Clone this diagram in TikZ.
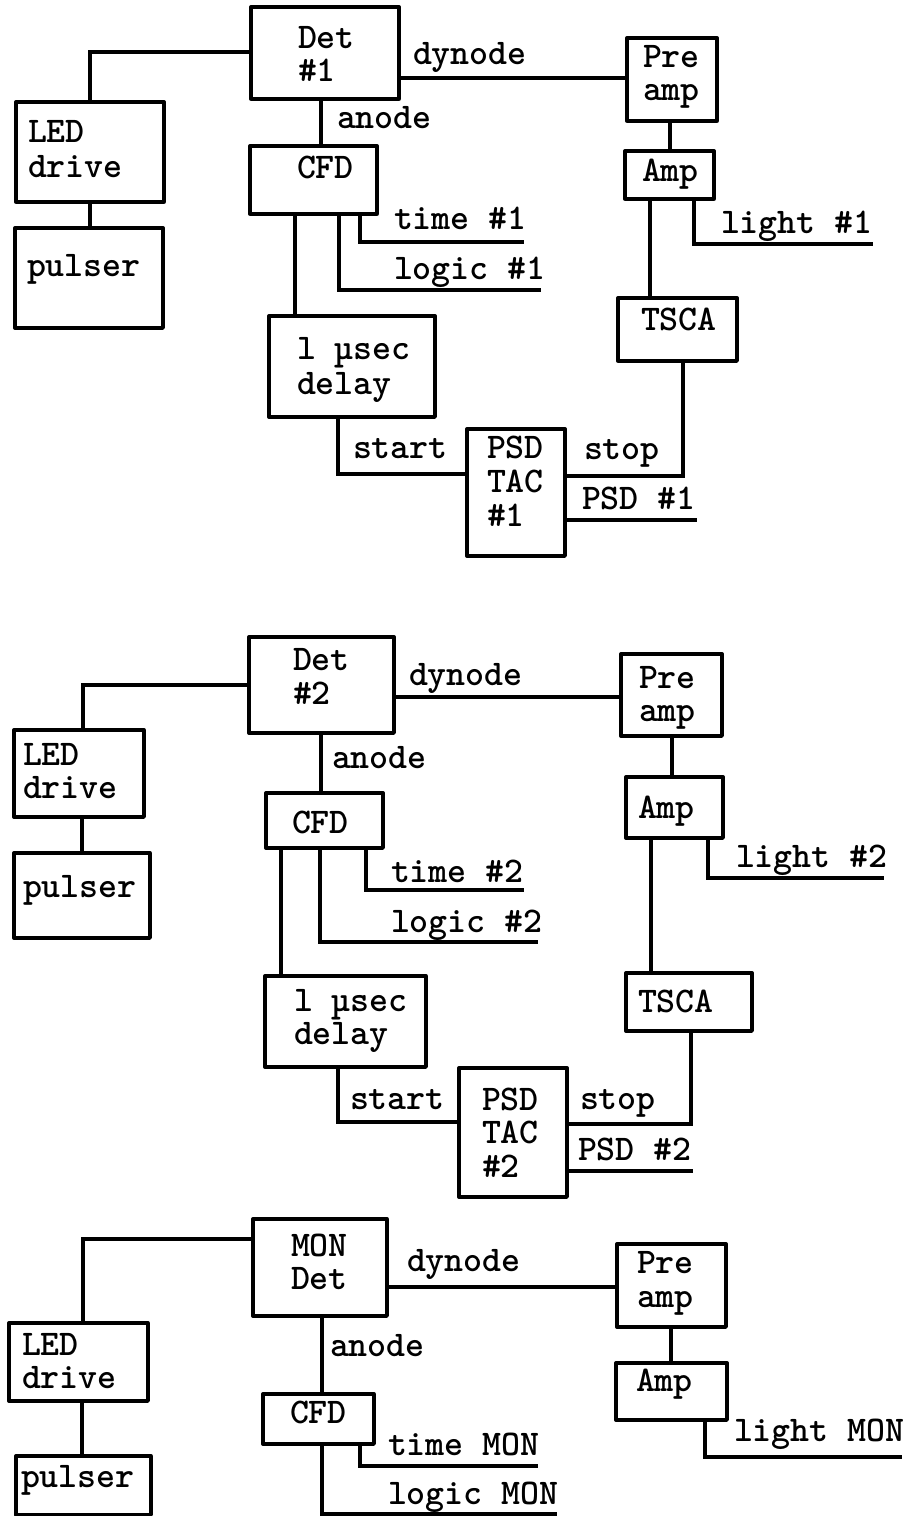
\documentclass[tikz,border=0pt]{standalone}
\usepackage{fontspec}
\tikzset{x=0.75pt,y=-0.75pt,
  box/.style={draw=black,line width=2.5pt,rectangle,inner sep=0pt,outer sep=0pt,line join=round},
  wire/.style={draw=black,line width=2.5pt,line join=miter},
  lab/.style={anchor=base west,inner sep=0pt,outer sep=0pt}}
% name, x0,y0,x1,y1, text left, first baseline, line gap, text
\newcommand\bx[9]{%
  \pgfmathsetlengthmacro\bw{(#4-#2)*0.75}%
  \pgfmathsetlengthmacro\bh{(#5-#3)*0.75}%
  \pgfmathsetlengthmacro\bdx{(#6-(#2+#4)/2)*0.75}%
  \pgfmathsetlengthmacro\bdy{((#3+#5)/2-#7)*0.75}%
  \pgfmathsetlengthmacro\bgap{(#8)*0.75}%
  \node[box,minimum width=\bw,minimum height=\bh] (#1) at ({(#2+#4)/2},{(#3+#5)/2})
    {\makebox[0pt][l]{\hspace*{\bdx}\raisebox{\bdy}[0pt][0pt]{\parbox[t]{200pt}{\setlength\baselineskip{\bgap}\parindent=0pt #9}}}};}
\newcommand\lb[4]{\node[lab] (#1) at (#2,#3) {#4};}
\begin{document}
\begin{tikzpicture}
\ttfamily\bfseries\fontsize{27.1}{32}\selectfont
\useasboundingbox (0,0) rectangle (908,1516);
% ---- section 1
\bx{detA}{251}{7}{399}{99}{298}{48.5}{33}{Det\\\#1}
\bx{ledA}{16}{102}{164}{202}{28}{143}{34}{LED\\drive}
\bx{pulA}{15}{228}{163}{328}{27}{276}{32}{pulser}
\bx{cfdA}{250}{146}{377}{214}{297}{179}{32}{CFD}
\bx{preA}{627}{38}{717}{121}{643}{68}{33}{Pre\\amp}
\bx{ampA}{625}{151}{714}{199}{642}{182}{32}{Amp}
\bx{tscA}{618}{298}{737}{361}{641}{330}{32}{TSCA}
\bx{dlyA}{269}{316}{435}{417}{297}{359}{35}{l µsec\\delay}
\bx{psdA}{467}{429}{565}{556}{487}{458}{34}{PSD\\TAC\\\#1}
\lb{dynA}{413}{65}{dynode}
\lb{anoA}{337}{129}{anode}
\lb{timA}{394}{229}{time \#1}
\lb{logA}{394}{279}{logic \#1}
\lb{ligA}{721}{233}{light \#1}
\lb{staA}{353}{458}{start}
\lb{stoA}{584}{459}{stop}
\lb{pslA}{582}{509}{PSD \#1}
\coordinate (timAe) at (524,242);
\coordinate (logAe) at (541,290);
\coordinate (ligAe) at (873,244);
\coordinate (pslAe) at (697,520);
\draw[wire] (detA.west |- 0,52) -| (90,0 |- ledA.north);
\draw[wire] (90,0 |- ledA.south) -- (90,0 |- pulA.north);
\draw[wire] (321,0 |- detA.south) -- (321,0 |- cfdA.north);
\draw[wire] (detA.east |- 0,78) -- (preA.west |- 0,78);
\draw[wire] (670,0 |- preA.south) -- (670,0 |- ampA.north);
\draw[wire] (694,0 |- ampA.south) |- (ligAe);
\draw[wire] (650,0 |- ampA.south) -- (650,0 |- tscA.north);
\draw[wire] (360,0 |- cfdA.south) |- (timAe);
\draw[wire] (339,0 |- cfdA.south) |- (logAe);
\draw[wire] (295,0 |- cfdA.south) -- (295,0 |- dlyA.north);
\draw[wire] (338,0 |- dlyA.south) |- (psdA.west |- 0,474);
\draw[wire] (psdA.east |- 0,476) -| (683,0 |- tscA.south);
\draw[wire] (psdA.east |- 0,520) -- (pslAe);
% ---- section 2
\bx{detB}{249}{637}{394}{733}{293}{670}{34}{Det\\\#2}
\bx{ledB}{14}{730}{144}{817}{23}{765.5}{33}{LED\\drive}
\bx{pulB}{14}{853}{150}{938}{23}{897}{32}{pulser}
\bx{cfdB}{266}{793}{383}{848}{292}{833}{32}{CFD}
\bx{preB}{621}{654}{722}{736}{639}{688}{33}{Pre\\amp}
\bx{ampB}{626}{777}{723}{838}{638}{818}{32}{Amp}
\bx{tscB}{626}{973}{752}{1031}{638}{1012}{32}{TSCA}
\bx{dlyB}{265}{976}{426}{1067}{294}{1011}{33}{l µsec\\delay}
\bx{psdB}{459}{1068}{567}{1197}{482}{1110}{33.5}{PSD\\TAC\\\#2}
\lb{dynB}{409}{685}{dynode}
\lb{anoB}{332}{768}{anode}
\lb{timB}{391}{882}{time \#2}
\lb{logB}{391}{932}{logic \#2}
\lb{ligB}{736}{867}{light \#2}
\lb{staB}{350}{1109}{start}
\lb{stoB}{580}{1109}{stop}
\lb{pslB}{578}{1160}{PSD \#2}
\coordinate (timBe) at (524,890);
\coordinate (logBe) at (538,942);
\coordinate (ligBe) at (884,878);
\coordinate (pslBe) at (693,1171);
\draw[wire] (detB.west |- 0,685) -| (83,0 |- ledB.north);
\draw[wire] (82,0 |- ledB.south) -- (82,0 |- pulB.north);
\draw[wire] (321,0 |- detB.south) -- (321,0 |- cfdB.north);
\draw[wire] (detB.east |- 0,697) -- (preB.west |- 0,697);
\draw[wire] (672,0 |- preB.south) -- (672,0 |- ampB.north);
\draw[wire] (708,0 |- ampB.south) |- (ligBe);
\draw[wire] (651,0 |- ampB.south) -- (651,0 |- tscB.north);
\draw[wire] (366,0 |- cfdB.south) |- (timBe);
\draw[wire] (320,0 |- cfdB.south) |- (logBe);
\draw[wire] (281,0 |- cfdB.south) -- (281,0 |- dlyB.north);
\draw[wire] (338,0 |- dlyB.south) |- (psdB.west |- 0,1122);
\draw[wire] (psdB.east |- 0,1124) -| (691,0 |- tscB.south);
\draw[wire] (psdB.east |- 0,1171) -- (pslBe);
% ---- section 3
\bx{detC}{253}{1219}{387}{1316}{291}{1256}{33}{MON\\Det}
\bx{ledC}{9}{1323}{148}{1401}{22}{1355.5}{33}{LED\\drive}
\bx{pulC}{16}{1456}{151}{1515}{21}{1487}{32}{pulser}
\bx{cfdC}{263}{1394}{374}{1444}{290}{1423}{32}{CFD}
\bx{preC}{617}{1244}{726}{1327}{637}{1273}{34}{Pre\\amp}
\bx{ampC}{616}{1363}{727}{1420}{636}{1391}{32}{Amp}
\lb{dynC}{407}{1271}{dynode}
\lb{anoC}{330}{1356}{anode}
\lb{timC}{388}{1455}{time MON}
\lb{logC}{388}{1504}{logic MON}
\lb{ligC}{734}{1441}{light MON}
\coordinate (timCe) at (538,1466);
\coordinate (logCe) at (557,1514);
\coordinate (ligCe) at (902,1457);
\draw[wire] (detC.west |- 0,1239) -| (83,0 |- ledC.north);
\draw[wire] (82,0 |- ledC.south) -- (82,0 |- pulC.north);
\draw[wire] (322,0 |- detC.south) -- (322,0 |- cfdC.north);
\draw[wire] (detC.east |- 0,1287) -- (preC.west |- 0,1287);
\draw[wire] (671,0 |- preC.south) -- (671,0 |- ampC.north);
\draw[wire] (705,0 |- ampC.south) |- (ligCe);
\draw[wire] (360,0 |- cfdC.south) |- (timCe);
\draw[wire] (322,0 |- cfdC.south) |- (logCe);
\end{tikzpicture}
\end{document}
